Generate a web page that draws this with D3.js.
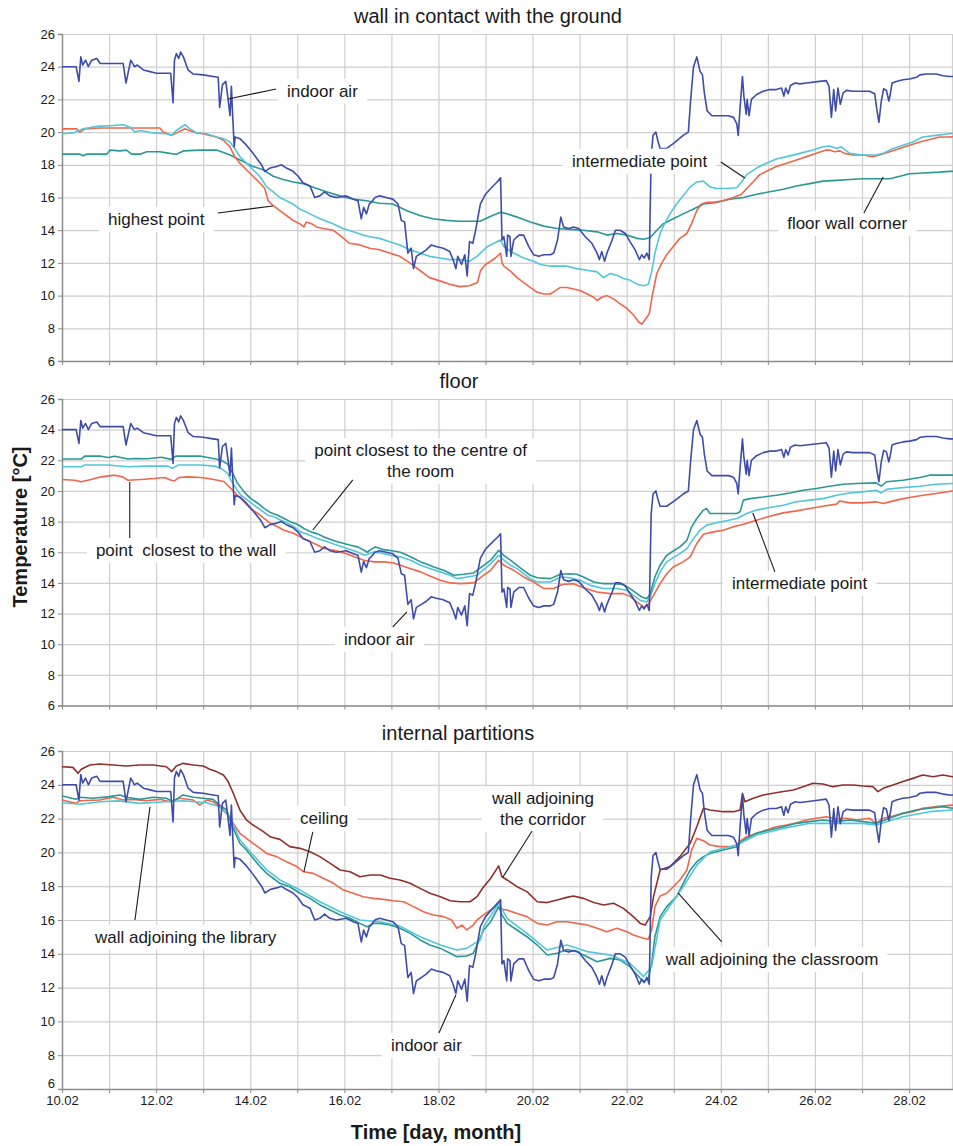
<!DOCTYPE html>
<html><head><meta charset="utf-8">
<script src="https://cdnjs.cloudflare.com/ajax/libs/d3/7.8.5/d3.min.js"></script>
<style>
body{margin:0;background:#fff}
svg{display:block}
text{font-family:"Liberation Sans",Arial,Helvetica,sans-serif;fill:#1a1a1a}
</style>
</head><body>
<svg id="chart" width="953" height="1146"></svg>
<script>
// ---------------- DATA ----------------
const dayTicks = [10,11,12,13,14,15,16,17,18,19,20,21,22,23,24,25,26,27,28];
const dateLabels = {10:"10.02",12:"12.02",14:"14.02",16:"16.02",18:"18.02",20:"20.02",22:"22.02",24:"24.02",26:"26.02",28:"28.02"};
const tempTicks = [6,8,10,12,14,16,18,20,22,24,26];
const panelTitles = ["wall in contact with the ground","floor","internal partitions"];
const yTitle = "Temperature [\u00B0C]";
const xTitle = "Time [day, month]";

// indoor air temperature (same measurement in all three panels) [day, °C]
const indoorAir = [[10.00,24.0],[10.30,24.0],[10.36,23.1],[10.40,24.6],[10.44,24.1],[10.50,24.4],[10.56,24.0],[10.63,24.4],[10.74,24.5],[10.81,24.2],[10.95,24.2],[11.30,24.2],[11.36,23.0],[11.46,24.4],[11.54,24.0],[11.60,24.1],[11.73,23.8],[11.87,23.7],[12.01,23.6],[12.31,23.6],[12.36,21.8],[12.39,24.4],[12.43,24.8],[12.48,24.5],[12.52,24.9],[12.58,24.6],[12.63,24.2],[12.68,23.8],[12.79,23.55],[13.00,23.5],[13.21,23.4],[13.32,23.35],[13.35,21.5],[13.41,22.9],[13.48,23.1],[13.53,22.0],[13.57,21.0],[13.60,22.8],[13.62,21.4],[13.66,19.1],[13.68,19.7],[13.78,19.6],[13.92,19.2],[14.06,18.7],[14.24,18.0],[14.31,17.6],[14.42,17.8],[14.56,17.9],[14.66,18.0],[14.77,17.8],[14.91,17.6],[15.02,17.3],[15.12,16.9],[15.27,16.7],[15.37,16.0],[15.48,16.1],[15.58,16.35],[15.69,16.1],[15.83,16.0],[16.04,16.1],[16.19,15.9],[16.29,15.8],[16.36,14.7],[16.41,15.4],[16.47,15.0],[16.53,15.6],[16.57,15.7],[16.65,16.0],[16.75,16.1],[16.89,16.0],[17.03,15.9],[17.14,15.6],[17.21,14.6],[17.28,14.5],[17.35,12.6],[17.42,12.9],[17.47,11.65],[17.53,12.4],[17.64,12.6],[17.74,12.8],[17.85,13.1],[17.95,13.0],[18.10,12.9],[18.24,12.7],[18.31,12.2],[18.37,11.65],[18.41,12.4],[18.49,11.9],[18.56,12.5],[18.61,11.2],[18.66,13.3],[18.73,13.2],[18.79,14.0],[18.89,15.6],[19.00,16.2],[19.11,16.55],[19.25,16.96],[19.32,17.2],[19.35,13.4],[19.39,13.6],[19.45,12.4],[19.47,13.7],[19.52,13.6],[19.54,12.4],[19.60,13.4],[19.71,13.7],[19.81,13.7],[19.92,13.0],[20.02,12.5],[20.13,12.4],[20.24,12.5],[20.38,12.5],[20.45,12.6],[20.53,13.4],[20.60,14.8],[20.66,14.2],[20.77,14.1],[20.87,14.2],[20.98,14.1],[21.12,13.6],[21.26,13.2],[21.37,12.6],[21.42,12.2],[21.47,12.7],[21.53,12.1],[21.58,12.6],[21.69,13.4],[21.76,14.0],[21.86,14.0],[21.97,13.8],[22.07,13.3],[22.18,12.8],[22.27,12.2],[22.32,12.5],[22.37,12.3],[22.43,12.6],[22.48,12.2],[22.52,18.5],[22.56,19.8],[22.62,20.0],[22.66,19.5],[22.71,19.0],[22.85,19.0],[22.99,19.3],[23.20,19.8],[23.31,20.0],[23.36,22.0],[23.42,24.0],[23.49,24.6],[23.56,23.7],[23.61,23.5],[23.65,22.4],[23.71,21.3],[23.81,21.0],[23.95,21.0],[24.16,21.0],[24.27,20.9],[24.34,20.5],[24.37,19.8],[24.41,21.5],[24.46,23.4],[24.49,22.2],[24.54,21.1],[24.56,22.0],[24.60,21.0],[24.65,22.0],[24.76,22.3],[24.90,22.5],[25.04,22.6],[25.18,22.6],[25.29,22.7],[25.34,22.2],[25.38,22.7],[25.43,22.35],[25.48,22.85],[25.58,23.0],[25.68,22.95],[25.82,23.0],[26.10,23.1],[26.24,23.15],[26.30,22.8],[26.35,20.9],[26.40,22.6],[26.44,21.3],[26.49,22.7],[26.54,21.7],[26.60,22.4],[26.67,22.55],[26.81,22.5],[26.95,22.5],[27.16,22.5],[27.27,22.35],[27.32,21.3],[27.36,20.6],[27.41,21.9],[27.46,22.65],[27.52,22.55],[27.57,21.9],[27.60,22.3],[27.64,23.0],[27.73,23.1],[27.87,23.2],[28.01,23.25],[28.16,23.35],[28.23,23.5],[28.37,23.55],[28.58,23.55],[28.72,23.45],[28.86,23.4],[29.00,23.4]];

// wall in contact with the ground
const groundHighest = [[10.00,20.2],[10.31,20.2],[10.38,20.0],[10.49,20.2],[10.81,20.25],[11.51,20.25],[12.08,20.25],[12.15,20.0],[12.33,19.8],[12.47,20.0],[12.61,20.2],[12.75,20.05],[12.86,19.95],[13.00,19.9],[13.14,19.8],[13.28,19.7],[13.43,19.5],[13.57,19.1],[13.67,18.5],[13.78,18.1],[13.92,17.7],[14.06,17.3],[14.20,16.9],[14.31,16.55],[14.38,15.8],[14.49,15.5],[14.63,15.2],[14.77,14.9],[14.91,14.6],[15.05,14.4],[15.14,14.2],[15.19,14.5],[15.30,14.4],[15.41,14.2],[15.55,14.1],[15.76,14.0],[15.90,13.7],[16.11,13.2],[16.33,13.1],[16.54,12.9],[16.75,12.8],[16.96,12.6],[17.18,12.4],[17.39,12.0],[17.60,11.55],[17.81,11.1],[18.03,10.9],[18.24,10.7],[18.45,10.55],[18.66,10.6],[18.83,10.8],[18.89,11.5],[19.00,11.9],[19.11,12.1],[19.21,12.3],[19.32,12.6],[19.35,12.0],[19.39,11.8],[19.53,11.5],[19.67,11.1],[19.81,10.8],[19.95,10.5],[20.10,10.2],[20.24,10.1],[20.38,10.1],[20.49,10.3],[20.59,10.5],[20.73,10.5],[20.87,10.4],[21.02,10.3],[21.16,10.1],[21.30,9.9],[21.37,9.7],[21.47,9.9],[21.58,10.0],[21.72,9.8],[21.86,9.5],[22.01,9.2],[22.15,8.8],[22.25,8.4],[22.32,8.25],[22.41,8.6],[22.48,8.9],[22.55,10.1],[22.64,11.35],[22.74,11.95],[22.85,12.5],[22.99,13.0],[23.13,13.5],[23.28,13.8],[23.38,14.4],[23.49,15.2],[23.59,15.6],[23.70,15.7],[23.84,15.7],[24.05,15.8],[24.27,16.0],[24.44,16.2],[24.55,16.55],[24.69,16.96],[24.83,17.4],[24.97,17.6],[25.18,17.9],[25.40,18.1],[25.61,18.3],[25.82,18.5],[26.03,18.7],[26.24,18.9],[26.31,18.9],[26.42,18.8],[26.53,18.85],[26.63,18.7],[26.81,18.6],[27.02,18.6],[27.23,18.5],[27.37,18.6],[27.59,18.8],[27.80,19.0],[28.01,19.2],[28.23,19.4],[28.44,19.55],[28.65,19.7],[28.86,19.7],[29.00,19.75]];
const groundIntermediate = [[10.00,19.9],[10.24,19.95],[10.45,20.2],[10.74,20.35],[11.09,20.4],[11.30,20.45],[11.44,20.3],[11.55,20.0],[11.66,20.1],[11.94,19.95],[12.22,19.9],[12.33,19.8],[12.43,20.1],[12.61,20.45],[12.72,20.2],[12.86,19.95],[13.07,19.9],[13.28,19.7],[13.43,19.6],[13.57,19.4],[13.67,19.0],[13.78,18.5],[13.92,18.1],[14.06,17.7],[14.20,17.3],[14.35,16.65],[14.49,16.35],[14.63,16.0],[14.77,15.8],[14.91,15.6],[15.05,15.3],[15.27,15.0],[15.48,14.7],[15.76,14.4],[15.97,14.1],[16.19,13.9],[16.40,13.7],[16.54,13.6],[16.75,13.5],[16.96,13.3],[17.18,13.1],[17.39,12.8],[17.60,12.6],[17.81,12.4],[18.03,12.3],[18.24,12.2],[18.45,12.2],[18.66,12.1],[18.82,12.4],[18.93,12.7],[19.04,13.0],[19.18,13.2],[19.32,13.4],[19.39,13.0],[19.53,12.7],[19.67,12.5],[19.81,12.3],[20.02,12.1],[20.17,11.9],[20.38,11.8],[20.59,11.8],[20.73,11.8],[20.94,11.65],[21.16,11.55],[21.37,11.45],[21.51,11.1],[21.65,11.35],[21.79,11.25],[21.93,11.05],[22.07,10.95],[22.22,10.7],[22.36,10.6],[22.46,10.7],[22.53,11.45],[22.60,12.6],[22.71,13.8],[22.82,14.5],[22.92,15.0],[23.06,15.6],[23.20,16.1],[23.35,16.65],[23.49,16.95],[23.63,17.0],[23.77,16.65],[23.91,16.55],[24.12,16.55],[24.34,16.6],[24.44,16.95],[24.55,17.4],[24.76,17.8],[24.97,18.1],[25.18,18.35],[25.40,18.5],[25.68,18.7],[25.96,18.9],[26.17,19.1],[26.31,19.15],[26.46,19.0],[26.56,19.1],[26.74,18.7],[27.02,18.6],[27.30,18.6],[27.45,18.7],[27.66,19.0],[27.87,19.2],[28.08,19.4],[28.29,19.7],[28.58,19.8],[28.86,19.9],[29.00,19.95]];
const groundCorner = [[10.00,18.65],[10.38,18.65],[10.45,18.55],[10.52,18.65],[10.95,18.65],[11.02,18.9],[11.23,18.85],[11.37,18.9],[11.48,18.65],[11.66,18.65],[11.80,18.8],[12.08,18.8],[12.29,18.7],[12.43,18.65],[12.58,18.85],[12.93,18.9],[13.28,18.9],[13.39,18.8],[13.57,18.6],[13.71,18.4],[13.85,18.2],[14.06,17.9],[14.27,17.7],[14.49,17.3],[14.70,17.1],[14.91,16.95],[15.12,16.85],[15.41,16.55],[15.62,16.35],[15.90,16.1],[16.19,15.9],[16.47,15.8],[16.75,15.65],[17.03,15.6],[17.32,15.2],[17.60,14.9],[17.88,14.7],[18.17,14.6],[18.45,14.55],[18.73,14.55],[18.89,14.55],[19.11,14.85],[19.32,15.1],[19.46,15.0],[19.67,14.8],[19.95,14.5],[20.24,14.25],[20.52,14.1],[20.80,14.05],[21.08,14.0],[21.37,13.9],[21.58,13.7],[21.79,13.8],[22.00,13.7],[22.22,13.5],[22.36,13.45],[22.50,13.55],[22.64,14.0],[22.78,14.4],[22.99,14.7],[23.20,15.0],[23.42,15.3],[23.63,15.6],[23.91,15.7],[24.19,15.9],[24.48,16.0],[24.76,16.2],[25.04,16.35],[25.33,16.5],[25.61,16.7],[25.89,16.85],[26.17,17.0],[26.46,17.05],[26.74,17.1],[27.02,17.15],[27.59,17.15],[27.87,17.35],[28.01,17.45],[28.30,17.5],[28.65,17.55],[28.86,17.6],[29.00,17.6]];

// floor
const floorCentre = [[10.00,22.08],[10.41,22.08],[10.48,22.27],[10.83,22.27],[10.98,22.18],[11.12,22.27],[11.40,22.08],[11.54,22.12],[11.82,22.1],[12.11,22.2],[12.32,22.06],[12.42,22.27],[12.67,22.27],[12.95,22.27],[13.10,22.18],[13.24,22.1],[13.38,22.0],[13.52,21.75],[13.63,21.14],[13.73,20.5],[13.87,19.94],[14.01,19.5],[14.16,19.2],[14.30,18.85],[14.44,18.57],[14.58,18.42],[14.72,18.2],[14.86,17.98],[15.00,17.83],[15.14,17.55],[15.29,17.33],[15.43,17.2],[15.57,17.0],[15.71,16.83],[15.85,16.68],[15.99,16.57],[16.13,16.46],[16.28,16.35],[16.42,16.13],[16.49,16.0],[16.56,16.17],[16.66,16.35],[16.84,16.17],[17.05,16.08],[17.19,16.0],[17.34,15.8],[17.48,15.59],[17.62,15.37],[17.76,15.22],[17.90,15.04],[18.11,14.82],[18.33,14.5],[18.54,14.56],[18.75,14.65],[18.96,15.15],[19.11,15.48],[19.28,16.13],[19.39,15.8],[19.53,15.48],[19.67,15.15],[19.81,14.82],[19.95,14.5],[20.10,14.34],[20.38,14.28],[20.59,14.56],[20.80,14.6],[20.94,14.56],[21.08,14.39],[21.30,14.06],[21.51,13.95],[21.72,13.95],[21.93,13.9],[22.07,13.63],[22.22,13.3],[22.32,13.08],[22.43,12.97],[22.50,13.3],[22.60,14.39],[22.71,15.15],[22.85,15.8],[22.99,16.08],[23.13,16.35],[23.28,16.78],[23.38,17.66],[23.49,18.2],[23.63,18.75],[23.70,18.85],[23.77,18.53],[24.05,18.53],[24.34,18.53],[24.41,18.64],[24.48,19.4],[24.62,19.5],[24.90,19.6],[25.18,19.72],[25.47,19.87],[25.75,20.05],[26.03,20.16],[26.31,20.31],[26.60,20.44],[26.88,20.49],[27.30,20.53],[27.41,20.31],[27.52,20.6],[27.87,20.7],[28.23,20.88],[28.44,21.03],[29.00,21.03]];
const floorIntermediate = [[10.00,21.58],[10.41,21.58],[10.48,21.69],[10.98,21.69],[11.40,21.58],[11.82,21.62],[12.25,21.62],[12.35,21.47],[12.46,21.69],[12.95,21.69],[13.24,21.62],[13.38,21.47],[13.52,21.14],[13.59,20.7],[13.70,20.16],[13.80,19.72],[13.94,19.4],[14.08,19.07],[14.23,18.75],[14.37,18.42],[14.51,18.31],[14.65,18.09],[14.79,17.92],[14.93,17.66],[15.07,17.33],[15.22,17.18],[15.43,16.89],[15.64,16.68],[15.85,16.46],[16.06,16.24],[16.28,16.02],[16.42,15.8],[16.49,15.87],[16.63,16.02],[16.77,15.96],[16.98,15.8],[17.19,15.7],[17.41,15.48],[17.62,15.15],[17.83,14.93],[18.04,14.72],[18.25,14.5],[18.40,14.28],[18.61,14.39],[18.82,14.5],[18.96,14.87],[19.11,15.26],[19.28,15.8],[19.39,15.48],[19.53,15.15],[19.67,14.93],[19.81,14.6],[19.95,14.28],[20.10,14.06],[20.38,14.06],[20.59,14.39],[20.80,14.34],[21.01,14.17],[21.23,13.84],[21.51,13.63],[21.79,13.63],[22.00,13.52],[22.14,13.19],[22.29,12.86],[22.43,12.75],[22.50,13.08],[22.60,13.95],[22.71,14.72],[22.85,15.37],[22.99,15.65],[23.13,15.91],[23.28,16.24],[23.42,16.89],[23.56,17.44],[23.70,17.77],[23.91,17.92],[24.12,18.05],[24.34,18.2],[24.55,18.53],[24.76,18.75],[25.04,18.92],[25.33,19.07],[25.61,19.29],[25.89,19.4],[26.17,19.5],[26.46,19.72],[26.74,19.87],[27.02,19.94],[27.30,20.05],[27.41,19.87],[27.52,20.1],[27.87,20.22],[28.23,20.31],[28.58,20.44],[28.92,20.49],[29.00,20.5]];
const floorWall = [[10.00,20.75],[10.27,20.7],[10.41,20.6],[10.62,20.75],[10.83,20.92],[11.12,21.03],[11.29,20.92],[11.40,20.7],[11.68,20.75],[11.96,20.81],[12.18,20.88],[12.32,20.7],[12.39,20.66],[12.49,20.88],[12.67,20.92],[12.95,20.88],[13.10,20.81],[13.31,20.7],[13.45,20.6],[13.59,20.16],[13.73,19.72],[13.87,19.29],[14.01,18.85],[14.16,18.53],[14.30,18.2],[14.44,17.87],[14.58,17.66],[14.72,17.44],[14.93,17.22],[15.14,16.89],[15.36,16.57],[15.57,16.24],[15.78,16.13],[15.99,15.96],[16.21,15.7],[16.42,15.48],[16.63,15.37],[16.84,15.37],[17.05,15.3],[17.19,15.15],[17.41,14.93],[17.62,14.72],[17.83,14.43],[18.04,14.17],[18.25,14.0],[18.47,13.95],[18.75,14.0],[18.82,14.17],[18.96,14.5],[19.11,14.82],[19.28,15.48],[19.39,15.15],[19.60,14.82],[19.81,14.39],[20.02,14.06],[20.24,13.63],[20.45,13.63],[20.63,13.9],[20.87,13.95],[21.08,13.69],[21.37,13.41],[21.65,13.3],[21.93,13.3],[22.07,13.12],[22.22,12.75],[22.36,12.43],[22.46,12.6],[22.57,13.19],[22.71,13.95],[22.85,14.6],[22.99,15.04],[23.20,15.37],[23.35,15.7],[23.49,16.57],[23.63,17.18],[23.84,17.33],[24.05,17.44],[24.27,17.66],[24.48,17.83],[24.76,18.09],[25.04,18.35],[25.33,18.57],[25.61,18.7],[25.89,18.85],[26.17,19.0],[26.46,19.14],[26.53,19.35],[26.74,19.22],[27.02,19.22],[27.30,19.29],[27.45,19.18],[27.73,19.4],[28.01,19.57],[28.30,19.72],[28.58,19.83],[28.92,20.0],[29.00,20.0]];

// internal partitions
const partCorridor = [[10.00,25.07],[10.23,25.03],[10.34,24.68],[10.41,24.92],[10.59,25.17],[10.80,25.23],[11.09,25.17],[11.37,25.11],[11.65,25.17],[11.94,25.17],[12.22,25.07],[12.33,24.78],[12.43,25.11],[12.57,25.27],[12.79,25.17],[13.00,25.11],[13.14,24.92],[13.28,24.78],[13.43,24.58],[13.53,24.19],[13.64,23.5],[13.78,22.51],[13.92,21.92],[14.06,21.62],[14.28,21.23],[14.42,20.93],[14.63,20.77],[14.84,20.34],[15.06,20.24],[15.27,20.04],[15.48,19.75],[15.70,19.35],[15.91,18.96],[16.12,18.86],[16.33,18.56],[16.55,18.66],[16.76,18.66],[16.97,18.47],[17.18,18.37],[17.40,18.17],[17.61,17.87],[17.82,17.58],[18.04,17.38],[18.25,17.14],[18.46,17.08],[18.67,17.08],[18.82,17.38],[18.96,17.97],[19.11,18.47],[19.28,19.2],[19.35,18.56],[19.46,18.37],[19.67,17.97],[19.88,17.68],[20.10,17.08],[20.31,17.03],[20.52,17.18],[20.73,17.34],[20.87,17.42],[21.08,17.28],[21.30,17.03],[21.51,16.89],[21.72,16.99],[21.93,16.69],[22.14,16.2],[22.29,15.8],[22.39,15.7],[22.50,16.2],[22.57,17.38],[22.71,18.96],[22.92,19.16],[23.13,19.75],[23.35,20.54],[23.49,21.52],[23.63,22.61],[23.77,22.51],[24.05,22.41],[24.27,22.41],[24.41,22.51],[24.46,23.5],[24.51,23.0],[24.69,23.2],[24.90,23.4],[25.11,23.5],[25.33,23.6],[25.54,23.69],[25.75,23.89],[25.96,24.09],[26.17,24.05],[26.38,23.89],[26.60,23.99],[26.81,23.99],[27.02,23.93],[27.23,23.89],[27.34,23.6],[27.45,23.79],[27.66,23.99],[27.87,24.19],[28.08,24.38],[28.29,24.58],[28.51,24.48],[28.72,24.58],[28.92,24.48],[29.00,24.5]];
const partCeiling = [[10.00,23.1],[10.30,22.9],[10.38,23.06],[10.80,23.1],[11.09,23.26],[11.30,23.1],[11.51,23.14],[11.79,23.06],[12.08,23.14],[12.29,23.0],[12.50,23.2],[12.79,23.1],[12.93,22.8],[13.07,23.1],[13.21,23.0],[13.35,22.7],[13.50,22.31],[13.64,21.72],[13.78,21.13],[13.92,20.83],[14.06,20.54],[14.21,20.24],[14.35,19.94],[14.56,19.75],[14.77,19.45],[14.99,19.16],[15.13,18.86],[15.34,18.76],[15.55,18.47],[15.77,18.17],[15.98,17.77],[16.19,17.58],[16.40,17.38],[16.62,17.28],[16.83,17.22],[17.04,17.14],[17.26,17.08],[17.47,16.79],[17.68,16.49],[17.89,16.3],[18.11,16.2],[18.28,16.0],[18.39,15.51],[18.50,15.7],[18.60,15.41],[18.74,15.7],[18.82,16.0],[18.96,16.3],[19.11,16.59],[19.28,17.08],[19.35,16.63],[19.46,16.59],[19.67,16.39],[19.88,16.2],[20.10,15.8],[20.31,15.7],[20.52,15.9],[20.73,15.9],[20.94,15.8],[21.16,15.7],[21.37,15.51],[21.58,15.31],[21.79,15.51],[22.00,15.31],[22.14,15.11],[22.36,14.92],[22.46,14.86],[22.53,15.41],[22.60,16.79],[22.71,17.42],[22.85,17.58],[22.99,17.97],[23.13,18.37],[23.28,18.96],[23.38,20.14],[23.49,20.83],[23.63,20.69],[23.77,20.44],[23.98,20.34],[24.19,20.34],[24.34,20.44],[24.44,20.73],[24.55,20.93],[24.76,21.13],[24.97,21.33],[25.18,21.52],[25.40,21.62],[25.61,21.76],[25.82,21.92],[26.03,22.02],[26.24,22.11],[26.46,21.96],[26.67,22.02],[26.88,21.92],[27.16,22.02],[27.30,21.72],[27.45,22.02],[27.66,22.15],[27.87,22.31],[28.08,22.41],[28.29,22.61],[28.58,22.71],[28.92,22.8],[29.00,22.8]];
const partClassroom = [[10.00,23.34],[10.30,23.14],[10.38,23.26],[10.66,23.2],[11.01,23.3],[11.23,23.4],[11.37,23.26],[11.65,23.14],[11.94,23.26],[12.22,23.2],[12.36,23.0],[12.57,23.4],[12.79,23.26],[13.00,23.2],[13.21,23.14],[13.35,22.8],[13.50,22.51],[13.57,21.92],[13.67,21.23],[13.78,20.54],[13.92,20.14],[14.06,19.65],[14.21,19.16],[14.35,18.76],[14.49,18.47],[14.63,18.17],[14.84,17.97],[15.06,17.58],[15.27,17.28],[15.48,16.89],[15.70,16.59],[15.91,16.3],[16.12,16.1],[16.33,15.8],[16.48,15.6],[16.62,15.8],[16.76,15.8],[16.97,15.7],[17.18,15.51],[17.40,15.21],[17.61,14.82],[17.82,14.52],[18.04,14.32],[18.25,14.03],[18.39,13.83],[18.60,13.87],[18.74,14.03],[18.82,14.52],[18.96,15.41],[19.11,15.9],[19.28,16.79],[19.35,16.3],[19.46,15.8],[19.67,15.41],[19.88,15.01],[20.10,14.52],[20.31,13.93],[20.52,14.03],[20.73,14.26],[20.94,14.13],[21.16,13.83],[21.37,13.53],[21.65,13.73],[21.86,13.63],[22.07,13.24],[22.22,12.75],[22.36,12.35],[22.46,12.55],[22.53,13.44],[22.60,15.01],[22.71,16.2],[22.85,16.79],[23.06,17.38],[23.20,18.17],[23.35,18.96],[23.49,19.45],[23.63,19.75],[23.77,19.94],[24.05,20.14],[24.34,20.34],[24.44,20.64],[24.55,20.83],[24.76,21.13],[25.04,21.33],[25.33,21.52],[25.61,21.72],[25.89,21.82],[26.17,21.92],[26.46,21.82],[26.74,21.92],[27.02,21.82],[27.30,21.72],[27.59,22.02],[27.87,22.31],[28.15,22.51],[28.43,22.61],[28.72,22.71],[28.92,22.61],[29.00,22.65]];
const partLibrary = [[10.00,22.94],[10.40,22.85],[10.80,23.0],[11.20,23.05],[11.65,22.9],[12.10,22.98],[12.57,23.06],[13.07,22.94],[13.35,22.7],[13.57,22.11],[13.78,20.73],[14.06,19.85],[14.35,18.96],[14.63,18.37],[15.06,17.77],[15.48,17.08],[15.91,16.49],[16.33,16.0],[16.76,15.9],[17.18,15.64],[17.61,15.01],[18.04,14.52],[18.39,14.22],[18.60,14.32],[18.89,14.82],[18.96,15.6],[19.28,16.99],[19.46,16.1],[19.88,15.21],[20.31,14.22],[20.73,14.52],[21.16,14.13],[21.65,13.93],[22.07,13.44],[22.36,12.65],[22.53,13.24],[22.71,16.0],[23.20,17.97],[23.49,19.25],[23.77,20.04],[24.34,20.44],[24.76,21.03],[25.33,21.42],[25.89,21.72],[26.46,21.72],[27.02,21.72],[27.30,21.62],[27.87,22.11],[28.43,22.41],[28.92,22.51],[29.00,22.5]];

// ---------------- LAYOUT / STYLE ----------------
const C = {blue:"#3d4caa", orange:"#f0664a", cyan:"#52c6d9", teal:"#2a9895", brown:"#8f302c"};
const plotL = 62, plotR = 953;
const x = d3.scaleLinear().domain([10, 29]).range([62, 956.1]);

const panels = [
  {title: panelTitles[0], tx: 488, ty: 23, top: 34, bot: 361, labels: false,
   series: [[groundCorner, C.teal], [groundHighest, C.orange], [groundIntermediate, C.cyan], [indoorAir, C.blue]],
   notes: [
     {lines:["indoor air"], at:[14.78,22.53], anchor:"start", lead:[[14.55,22.64],[13.53,22.02]]},
     {lines:["highest point"], at:[10.98,14.69], anchor:"start", lead:[[13.31,15.05],[14.48,15.48]]},
     {lines:["intermediate point"], at:[20.84,18.25], anchor:"start", lead:[[24.0,18.17],[24.51,17.19]]},
     {lines:["floor wall corner"], at:[25.41,14.44], anchor:"start", lead:[[27.04,15.05],[27.45,17.25]]}
   ]},
  {title: panelTitles[1], tx: 459, ty: 388, top: 399, bot: 705.5, labels: false,
   series: [[floorWall, C.orange], [floorIntermediate, C.cyan], [floorCentre, C.teal], [indoorAir, C.blue]],
   notes: [
     {lines:["point closest to the centre of","the room"], at:[17.62,22.67], anchor:"middle", lead:[[16.18,20.72],[15.33,17.45]]},
     {lines:["point  closest to the wall"], at:[10.72,16.15], anchor:"start", lead:[[11.44,16.93],[11.44,20.59]]},
     {lines:["indoor air"], at:[15.99,10.34], anchor:"start", lead:[[17.03,11.13],[17.33,12.11]]},
     {lines:["intermediate point"], at:[24.24,14.0], anchor:"start", lead:[[25.15,14.72],[24.68,18.56]]}
   ]},
  {title: panelTitles[2], tx: 458, ty: 740, top: 751, bot: 1089, labels: true,
   series: [[partCorridor, C.brown], [partCeiling, C.orange], [partClassroom, C.teal], [partLibrary, C.cyan], [indoorAir, C.blue]],
   notes: [
     {lines:["ceiling"], at:[15.06,22.04], anchor:"start", lead:[[15.33,21.21],[15.14,18.84]]},
     {lines:["wall adjoining the library"], at:[10.70,15.0], anchor:"start", lead:[[11.55,16.0],[11.87,22.69]]},
     {lines:["indoor air"], at:[16.99,8.6], anchor:"start", lead:[[18.01,9.31],[18.37,11.56]]},
     {lines:["wall adjoining","the corridor"], at:[20.22,23.22], anchor:"middle", lead:[[19.99,21.27],[19.37,18.54]]},
     {lines:["wall adjoining the classroom"], at:[22.83,13.69], anchor:"start", lead:[[24.02,14.70],[23.09,17.6]]}
   ]}
];

// ---------------- DRAW ----------------
const svg = d3.select("#chart");
svg.append("rect").attr("width",953).attr("height",1146).attr("fill","#fff");
const defs = svg.append("defs");

panels.forEach((p, i) => {
  const y = d3.scaleLinear().domain([6, 26]).range([p.bot, p.top]);
  const g = svg.append("g");

  // title
  g.append("text").attr("x", p.tx).attr("y", p.ty).attr("text-anchor","middle")
    .style("font-size","20px").text(p.title);

  // horizontal grid
  g.append("g").attr("transform",`translate(${plotL},0)`)
    .call(d3.axisLeft(y).tickValues(tempTicks).tickSize(-(plotR - plotL)).tickFormat(""))
    .call(s => s.select(".domain").remove())
    .call(s => s.selectAll("line").attr("stroke","#cfcfcf").attr("stroke-width",1.2));
  // vertical grid
  g.append("g").attr("transform",`translate(0,${p.bot})`)
    .call(d3.axisBottom(x).tickValues(dayTicks.slice(1)).tickSize(-(p.bot - p.top)).tickFormat(""))
    .call(s => s.select(".domain").remove())
    .call(s => s.selectAll("line").attr("stroke","#cfcfcf").attr("stroke-width",1.2));
  g.append("line").attr("x1", plotR - 0.5).attr("x2", plotR - 0.5).attr("y1", p.top).attr("y2", p.bot)
    .attr("stroke","#cfcfcf").attr("stroke-width",1.2);

  // y axis
  g.append("g").attr("transform",`translate(${plotL},0)`)
    .call(d3.axisLeft(y).tickValues(tempTicks).tickSize(4).tickPadding(3))
    .call(s => s.select(".domain").attr("stroke","#8c8c8c").attr("stroke-width",1.5))
    .call(s => s.selectAll("line").attr("stroke","#8c8c8c"))
    .call(s => s.selectAll("text").style("font-size","13px").style("font-family","'Liberation Sans',Arial,sans-serif").attr("fill","#333"))
    .call(s => { if (p.labels) s.selectAll(".tick").filter(d => d === 6).select("text").attr("dy","-0.1em"); });
  // x axis
  g.append("g").attr("transform",`translate(0,${p.bot})`)
    .call(d3.axisBottom(x).tickValues(dayTicks).tickSize(4).tickPadding(3)
      .tickFormat(d => p.labels && dateLabels[d] ? dateLabels[d] : ""))
    .call(s => s.select(".domain").attr("stroke","#8c8c8c").attr("stroke-width",1.5).attr("d", `M${plotL},0.5H${plotR}`))
    .call(s => s.selectAll("line").attr("stroke","#8c8c8c"))
    .call(s => s.selectAll("text").style("font-size","13px").style("font-family","'Liberation Sans',Arial,sans-serif").attr("fill","#333"));

  // clip
  defs.append("clipPath").attr("id","clip"+i).append("rect")
    .attr("x", plotL).attr("y", p.top - 10).attr("width", plotR - plotL).attr("height", p.bot - p.top + 10);

  const line = d3.line().x(d => x(d[0])).y(d => y(d[1]));
  const lg = g.append("g").attr("clip-path",`url(#clip${i})`);
  p.series.forEach(([data, col]) => {
    lg.append("path").datum(data).attr("d", line).attr("fill","none")
      .attr("stroke", col).attr("stroke-width", 1.6).attr("stroke-linejoin","round");
  });

  // annotations
  p.notes.forEach(n => {
    const ng = g.append("g");
    const rect = ng.append("rect").attr("fill","#fff");
    const cx = x(n.at[0]), cy = y(n.at[1]);
    const t = ng.append("text").attr("text-anchor", n.anchor).style("font-size","17px").style("white-space","pre");
    n.lines.forEach((ln, k) => {
      t.append("tspan").attr("x", cx).attr("y", cy + 6 + k * 21).text(ln);
    });
    const bb = t.node().getBBox();
    rect.attr("x", bb.x - 9).attr("y", bb.y - 3).attr("width", bb.width + 18).attr("height", bb.height + 6);
    ng.append("line").attr("x1", x(n.lead[0][0])).attr("y1", y(n.lead[0][1]))
      .attr("x2", x(n.lead[1][0])).attr("y2", y(n.lead[1][1]))
      .attr("stroke","#1a1a1a").attr("stroke-width",1.1);
  });
});

// axis titles
svg.append("text").attr("transform","translate(27,527) rotate(-90)").attr("text-anchor","middle")
  .style("font-size","20px").style("font-weight","bold").text(yTitle);
svg.append("text").attr("x",436).attr("y",1139).attr("text-anchor","middle")
  .style("font-size","20px").style("font-weight","bold").text(xTitle);
</script>
</body></html>
